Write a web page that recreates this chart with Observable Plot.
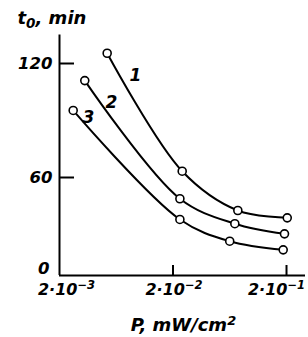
<!DOCTYPE html>
<html>
<head>
<meta charset="utf-8">
<script src="https://cdn.jsdelivr.net/npm/d3@7"></script>
<script src="https://cdn.jsdelivr.net/npm/@observablehq/plot@0.6"></script>
<style>
  html, body { margin: 0; padding: 0; background: #fff; }
  svg { display: block; }
</style>
</head>
<body>
<div id="chart"></div>
<script>
// Data
const curveNames = ["1", "2", "3"];
const power1 = [0.00526, 0.0241, 0.0745, 0.203];
const time1  = [125.4, 63.3, 39.8, 35.3];
const power2 = [0.00334, 0.0230, 0.0701, 0.192];
const time2  = [111.0, 47.0, 31.7, 25.5];
const power3 = [0.00264, 0.0230, 0.0632, 0.187];
const time3  = [95.3, 34.3, 21.0, 15.7];

// Curve label anchors (data coordinates)
const labelPower = [0.00935, 0.00574, 0.0036];
const labelTime  = [113.7, 99.5, 91.6];

const xTicks = [0.002, 0.02, 0.2];
const xTickBase = ["2·10", "2·10", "2·10"];
const xTickExp = ["−3", "−2", "−1"];
const yTicks = [0, 60, 120];
const yTickLabels = ["0", "60", "120"];

const series = [
  {name: curveNames[0], P: power1, t: time1},
  {name: curveNames[1], P: power2, t: time2},
  {name: curveNames[2], P: power3, t: time3}
];
const points = series.flatMap(s => s.P.map((p, i) => ({curve: s.name, P: p, t: s.t[i]})));
const labels = curveNames.map((n, i) => ({name: n, P: labelPower[i], t: labelTime[i]}));
const yTickRows = yTicks.map((v, i) => ({v, label: yTickLabels[i]}));
const xTickRows = xTicks.map((v, i) => ({v, i, label: xTickBase[i] + "^" + xTickExp[i]}));

const W = 308, H = 337, ML = 59, MR = 3, MT = 34.5, MB = 62;
const frameW = W - ML - MR, frameH = H - MT - MB;
const font = "DejaVu Sans, sans-serif";
const xLabelShift = [7, 1, -10];

const chart = Plot.plot({
  width: W,
  height: H,
  marginLeft: ML,
  marginRight: MR,
  marginTop: MT,
  marginBottom: MB,
  style: {fontFamily: font, fontStyle: "italic", fontWeight: "bold", fontSize: "16px", background: "#fff", color: "#000"},
  x: {type: "log", domain: [0.002, 0.294], axis: null},
  y: {type: "linear", domain: [0, 60, 135], range: [275, 177, 34.5], axis: null},
  marks: [
    // axis lines
    Plot.ruleY([0], {stroke: "#000", strokeWidth: 2}),
    Plot.ruleX([0.002], {y1: 0, y2: 135, stroke: "#000", strokeWidth: 2}),
    // inward tick marks
    Plot.ruleY(yTickRows.filter(d => d.v > 0), {y: "v", insetRight: frameW - 15, stroke: "#000", strokeWidth: 2}),
    Plot.ruleX(xTickRows.filter(d => d.v > xTicks[0]), {x: "v", insetTop: frameH - 10, stroke: "#000", strokeWidth: 2}),
    // tick labels
    Plot.text(yTickRows.filter(d => d.v > 0), {y: "v", text: "label", frameAnchor: "left", dx: -7, textAnchor: "end", fontSize: 16.5, fill: "#000"}),
    Plot.text(yTickRows.filter(d => d.v === 0), {y: "v", text: "label", frameAnchor: "left", dx: -10, dy: -7, textAnchor: "end", fontSize: 16.5, fill: "#000"}),
    ...xTickRows.map(r => Plot.text([r], {x: "v", text: "label", frameAnchor: "bottom", dy: 14, dx: xLabelShift[r.i], lineAnchor: "middle", textAnchor: "middle", fontSize: 16, fill: "#000"})),
    // curves
    Plot.line(points, {x: "P", y: "t", z: "curve", curve: "catmull-rom", stroke: "#000", strokeWidth: 2}),
    Plot.dot(points, {x: "P", y: "t", r: 4, fill: "#fff", stroke: "#000", strokeWidth: 1.6}),
    // curve labels
    Plot.text(labels, {x: "P", y: "t", text: "name", fontSize: 17, fill: "#000"}),
    // axis titles
    Plot.text(["t_0, min"], {frameAnchor: "top-left", dx: -42, dy: -11, lineAnchor: "bottom", textAnchor: "start", fontSize: 18, fill: "#000"}),
    Plot.text(["P, mW/cm^2"], {frameAnchor: "bottom", dx: 1, dy: 50, lineAnchor: "middle", textAnchor: "middle", fontSize: 18, fill: "#000"})
  ]
});

// Turn ^ and _ markers into real superscript / subscript tspans
d3.select(chart).selectAll("text").each(function() {
  const el = d3.select(this);
  const s = this.textContent;
  const m = s.match(/^([^\^_]*)([\^_])([^,\s]+)(.*)$/);
  if (!m) return;
  const up = m[2] === "^";
  el.text(null);
  el.append("tspan").text(m[1]);
  el.append("tspan").attr("dy", up ? "-0.5em" : "0.3em").attr("font-size", up ? "0.72em" : "0.75em").text(m[3]);
  if (m[4]) el.append("tspan").attr("dy", up ? "0.36em" : "-0.225em").text(m[4]);
});

document.getElementById("chart").appendChild(chart);
</script>
</body>
</html>
